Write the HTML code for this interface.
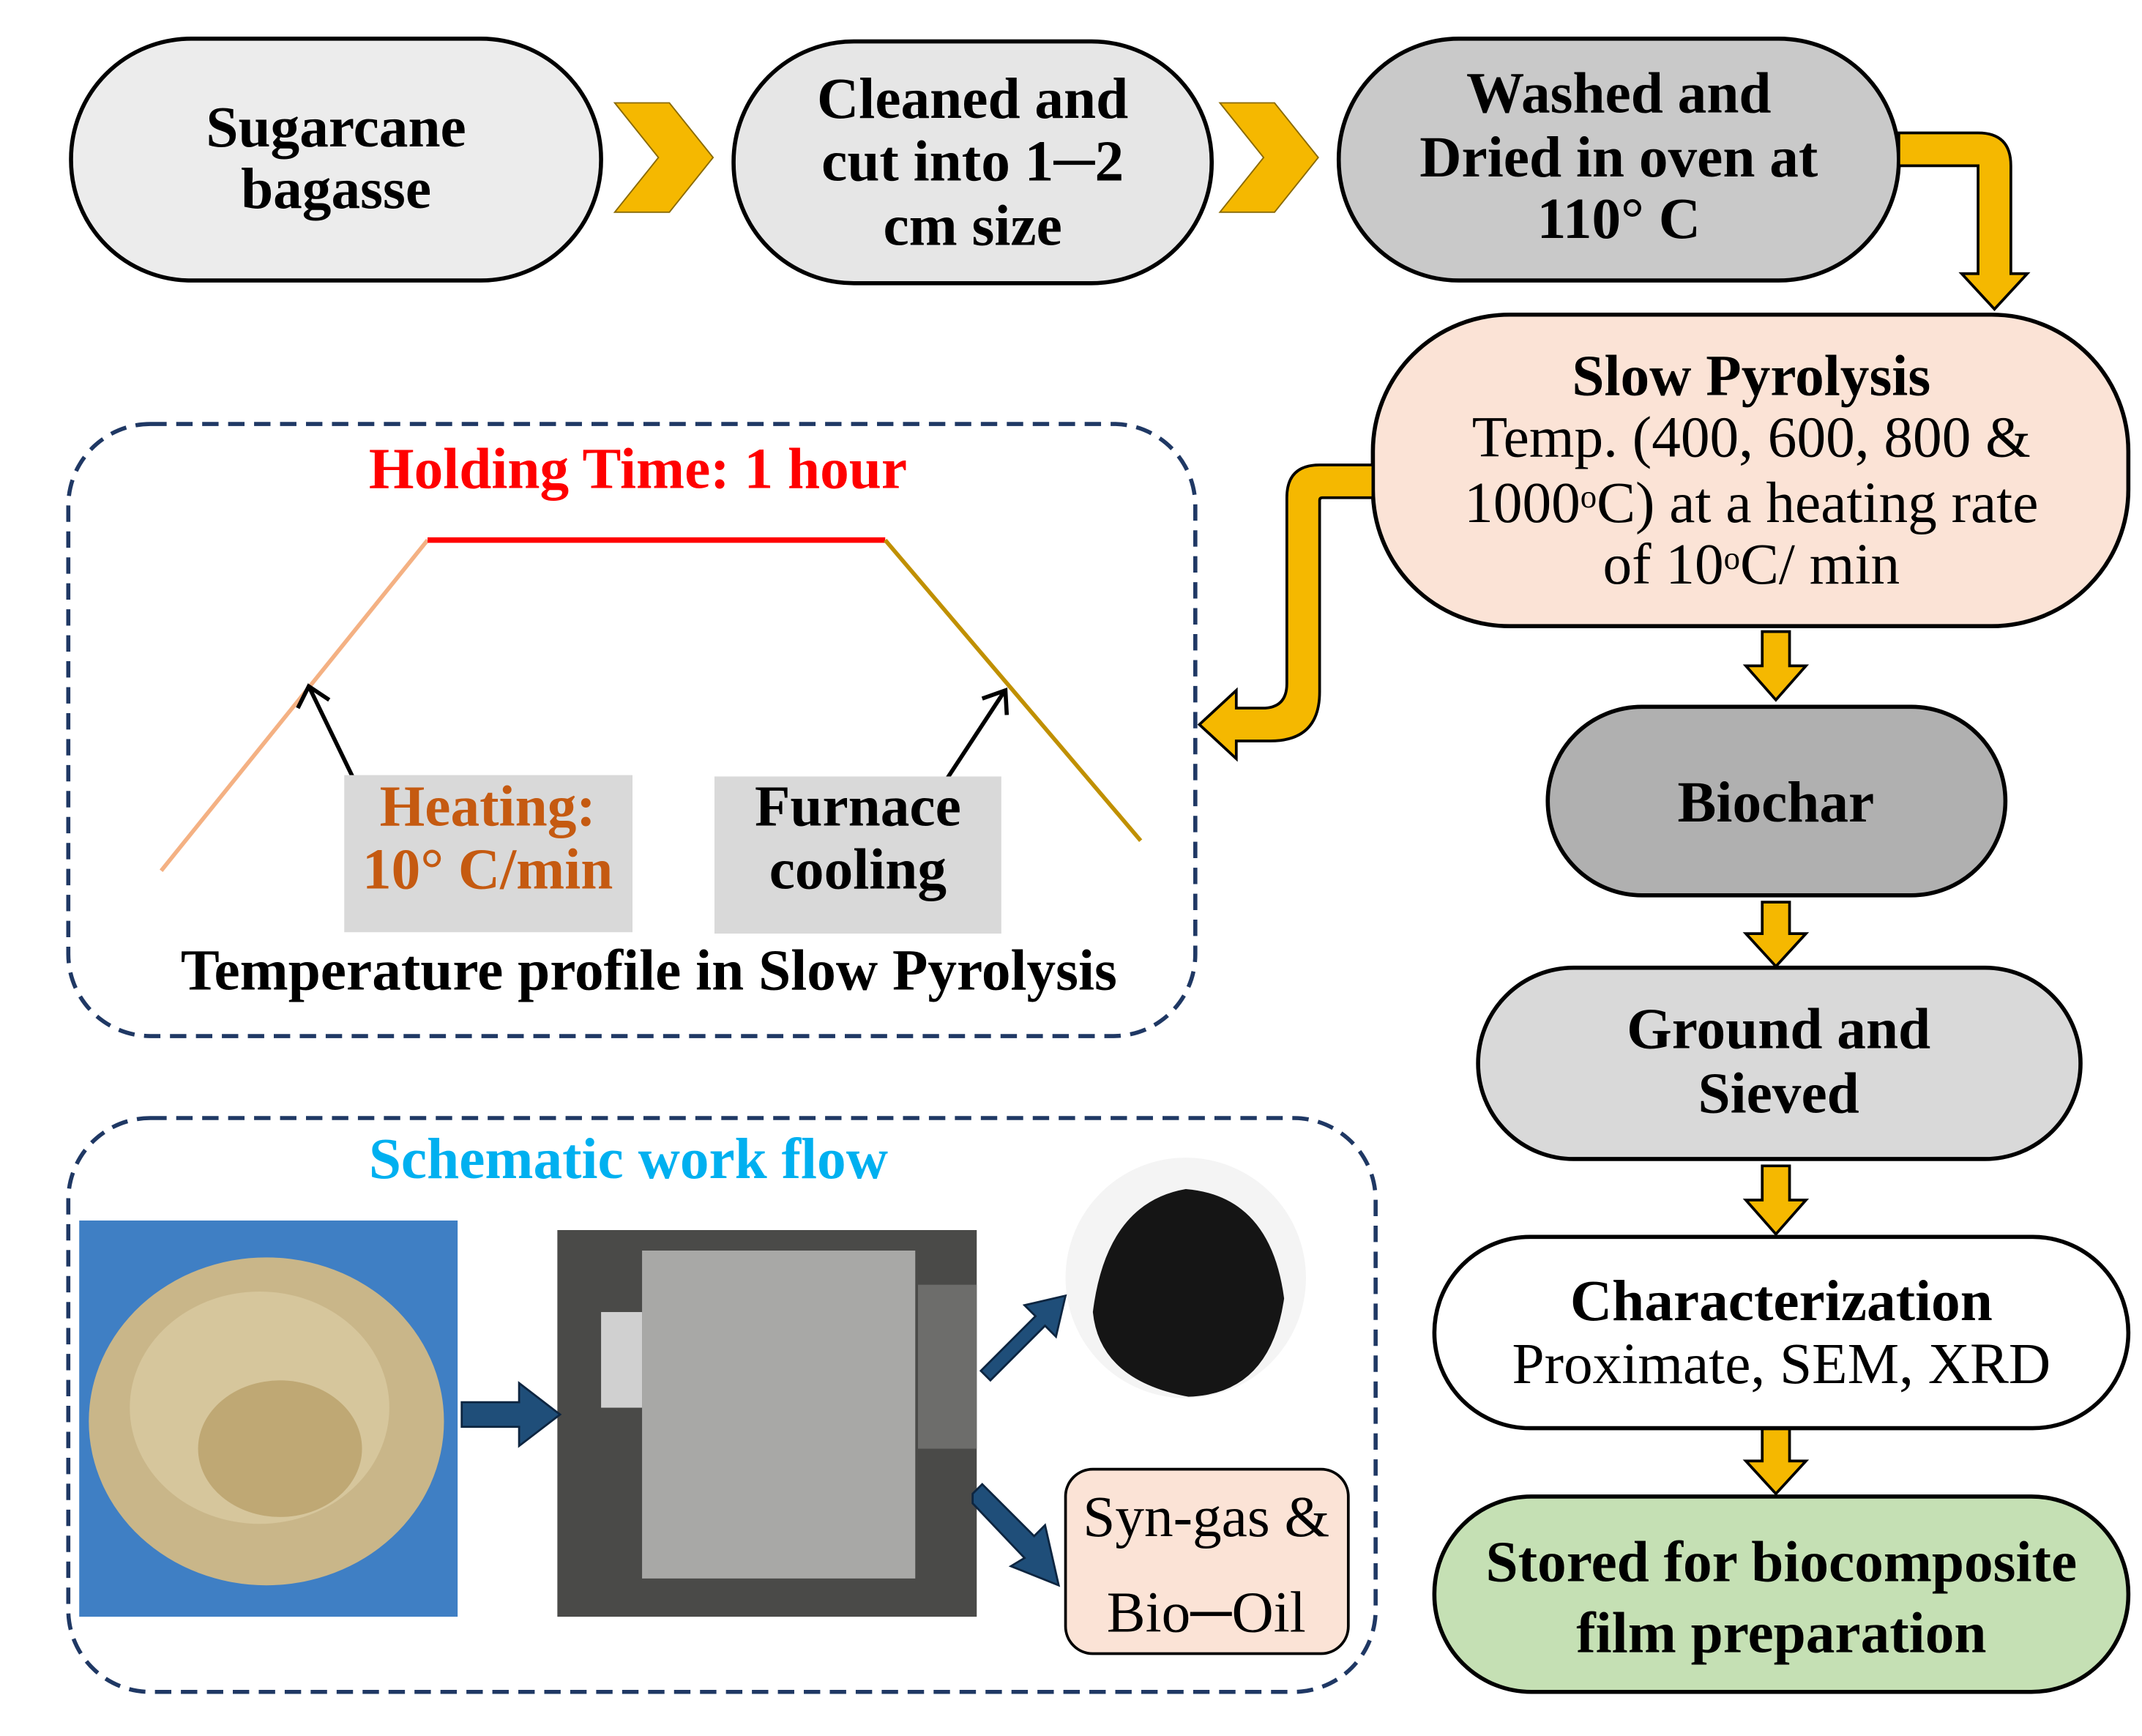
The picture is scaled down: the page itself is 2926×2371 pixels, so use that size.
<!DOCTYPE html>
<html><head><meta charset="utf-8"><style>
html,body{margin:0;padding:0;background:#fff}
svg{display:block}
text{font-family:"Liberation Serif",serif;dominant-baseline:central;text-anchor:middle}
.b{font-weight:bold;font-size:42.5px}
.r{font-size:42.5px}
</style></head><body>
<svg width="2926" height="2371" viewBox="0 0 1568 1270" xmlns="http://www.w3.org/2000/svg">
<!-- top row -->
<rect x="52" y="28" width="388" height="177" rx="88" fill="#ececec" stroke="#000" stroke-width="3"/>
<text class="b" x="246" y="93">Sugarcane</text><text class="b" x="246" y="138">bagasse</text>
<polygon points="450,75 490,75 522,115 490,155 450,155 482,115" fill="#f5b800" stroke="#8a6a00" stroke-width="1"/>
<rect x="537" y="30" width="350" height="177" rx="88" fill="#e6e6e6" stroke="#000" stroke-width="3"/>
<text class="b" x="712" y="72">Cleaned and</text><text class="b" x="712" y="118">cut into 1─2</text><text class="b" x="712" y="165">cm size</text>
<polygon points="893,75 933,75 965,115 933,155 893,155 925,115" fill="#f5b800" stroke="#8a6a00" stroke-width="1"/>
<rect x="980" y="28" width="410" height="177" rx="88" fill="#c9c9c9" stroke="#000" stroke-width="3"/>
<text class="b" x="1185" y="68">Washed and</text><text class="b" x="1185" y="115">Dried in oven at</text><text class="b" x="1185" y="160">110°  C</text>
<path d="M1390,97 L1448,97 Q1472,97 1472,121 L1472,200 L1484,200 L1460,226 L1436,200 L1448,200 L1448,121 L1390,121 Z" fill="#f5b800" stroke="#000" stroke-width="2"/>
<!-- slow pyrolysis -->
<rect x="1005" y="230" width="553" height="228" rx="100" fill="#fbe3d6" stroke="#000" stroke-width="3"/>
<text class="b" x="1282" y="275">Slow Pyrolysis</text>
<text class="r" x="1282" y="320">Temp. (400, 600, 800 &amp;</text>
<text class="r" x="1282" y="368">1000<tspan font-size="24" dy="-5">o</tspan><tspan dy="5">C) at a heating rate</tspan></text>
<text class="r" x="1282" y="413">of 10<tspan font-size="24" dy="-5">o</tspan><tspan dy="5">C/ min</tspan></text>
<path d="M1005,340 L966,340 Q942,340 942,364 L942,500 Q942,518 924,518 L905,518 L905,505 L878,530 L905,555 L905,542 L930,542 Q966,542 966,506 L966,366 Q966,364 968,364 L1005,364 Z" fill="#f5b800" stroke="#000" stroke-width="2"/>
<!-- dashed box 1 -->
<rect x="50" y="310" width="825" height="448" rx="60" fill="none" stroke="#1f3864" stroke-width="3" stroke-dasharray="12,7"/>
<text class="b" x="467" y="343" fill="#ff0000">Holding Time: 1 hour</text>
<line x1="118" y1="637" x2="313" y2="395" stroke="#f4b183" stroke-width="3"/>
<line x1="313" y1="395" x2="648" y2="395" stroke="#ff0000" stroke-width="4"/>
<line x1="648" y1="395" x2="835" y2="615" stroke="#c09000" stroke-width="3"/>
<line x1="258" y1="568" x2="227" y2="504" stroke="#000" stroke-width="3"/>
<path d="M218,518 L226,502 L241,512" fill="none" stroke="#000" stroke-width="3"/>
<line x1="693" y1="570" x2="735" y2="506" stroke="#000" stroke-width="3"/>
<path d="M719,511 L736,505 L737,523" fill="none" stroke="#000" stroke-width="3"/>
<rect x="252" y="567" width="211" height="115" fill="#d9d9d9"/>
<text class="b" x="357" y="590" fill="#c55a11">Heating:</text><text class="b" x="357" y="636" fill="#c55a11">10°  C/min</text>
<rect x="523" y="568" width="210" height="115" fill="#d9d9d9"/>
<text class="b" x="628" y="590">Furnace</text><text class="b" x="628" y="636">cooling</text>
<text class="b" x="475" y="710">Temperature profile in Slow Pyrolysis</text>
<g fill="#f5b800" stroke="#000" stroke-width="2">
<path d="M1290,462 L1310,462 L1310,487 L1322,487 L1300,512 L1278,487 L1290,487 Z"/>
<path d="M1290,660 L1310,660 L1310,683 L1322,683 L1300,707 L1278,683 L1290,683 Z"/>
<path d="M1290,853 L1310,853 L1310,878 L1322,878 L1300,903 L1278,878 L1290,878 Z"/>
<path d="M1290,1045 L1310,1045 L1310,1069 L1322,1069 L1300,1093 L1278,1069 L1290,1069 Z"/>
</g>
<rect x="1133" y="517" width="335" height="138" rx="69" fill="#b0b0b0" stroke="#000" stroke-width="3"/>
<text class="b" x="1300" y="587">Biochar</text>
<rect x="1082" y="708" width="441" height="140" rx="70" fill="#d9d9d9" stroke="#000" stroke-width="3"/>
<text class="b" x="1302" y="753">Ground and</text><text class="b" x="1302" y="800">Sieved</text>
<rect x="1050" y="905" width="508" height="140" rx="70" fill="#fff" stroke="#000" stroke-width="3"/>
<text class="b" x="1304" y="952">Characterization</text><text class="r" x="1304" y="998">Proximate, SEM, XRD</text>
<rect x="1050" y="1095" width="508" height="143" rx="71" fill="#c5e0b4" stroke="#000" stroke-width="3"/>
<text class="b" x="1304" y="1143">Stored for biocomposite</text><text class="b" x="1304" y="1195">film preparation</text>
<!-- dashed box 2 -->
<rect x="50" y="818" width="957" height="420" rx="60" fill="none" stroke="#1f3864" stroke-width="3" stroke-dasharray="12,7"/>
<text class="b" x="460" y="848" fill="#00b0f0">Schematic work flow</text>
<rect x="58" y="893" width="277" height="290" fill="#3f7fc4"/>
<ellipse cx="195" cy="1040" rx="130" ry="120" fill="#c9b689"/>
<ellipse cx="190" cy="1030" rx="95" ry="85" fill="#d6c69c"/>
<ellipse cx="205" cy="1060" rx="60" ry="50" fill="#bfa874"/>
<rect x="408" y="900" width="307" height="283" fill="#4a4a48"/>
<rect x="470" y="915" width="200" height="240" fill="#a8a8a6"/>
<rect x="440" y="960" width="30" height="70" fill="#d0d0d0"/>
<rect x="672" y="940" width="43" height="120" fill="#6d6d6b"/>
<circle cx="868" cy="935" r="88" fill="#f4f4f4"/>
<path d="M800,960 Q810,880 868,870 Q930,875 940,950 Q930,1020 870,1022 Q805,1010 800,960 Z" fill="#151515"/>
<rect x="780" y="1075" width="207" height="135" rx="20" fill="#fbe3d6" stroke="#000" stroke-width="2"/>
<text class="r" x="883" y="1110">Syn-gas &amp;</text><text class="r" x="883" y="1180">Bio─Oil</text>
<g fill="#1f4e79" stroke="#0d2540" stroke-width="1.5">
<path d="M338,1026 L380,1026 L380,1012 L410,1035 L380,1058 L380,1044 L338,1044 Z"/>
<path d="M718,1003 L758,963 L750,955 L780,948 L773,978 L765,970 L725,1010 Z"/>
<path d="M712,1093 L719,1086 L757,1124 L765,1116 L775,1160 L740,1146 L750,1140 L712,1100 Z"/>
</g>
</svg>
</body></html>
